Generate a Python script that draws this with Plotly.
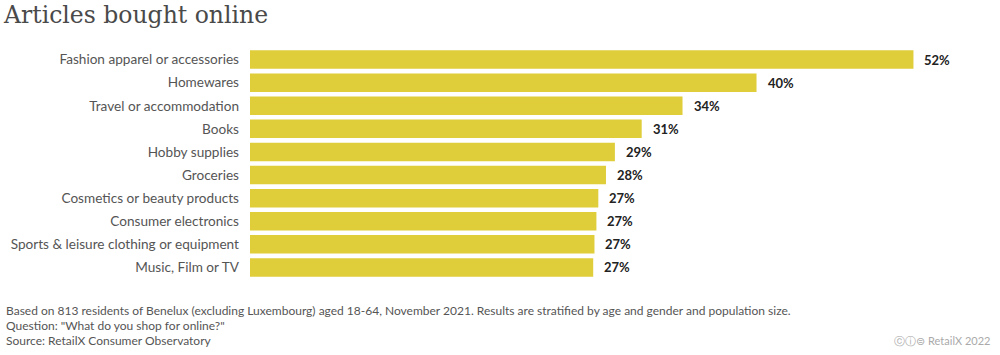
import plotly.graph_objects as go

categories = [
    "Fashion apparel or accessories",
    "Homewares",
    "Travel or accommodation",
    "Books",
    "Hobby supplies",
    "Groceries",
    "Cosmetics or beauty products",
    "Consumer electronics",
    "Sports & leisure clothing or equipment",
    "Music, Film or TV",
]
values = [52.0, 39.7, 33.9, 30.7, 28.6, 27.9, 27.3, 27.15, 27.0, 26.9]

title_text = "Articles bought online"
footer_lines = [
    "Based on 813 residents of Benelux (excluding Luxembourg) aged 18-64, November 2021. Results are stratified by age and gender and population size.",
    'Question: "What do you shop for online?"',
    "Source: RetailX Consumer Observatory",
]
credit_text = "ⓒⓘ⊜ RetailX 2022"

W, H = 1000, 355
ML, MR, MT, MB = 250, 10, 48, 76
PW, PH = W - ML - MR, H - MT - MB

def px_x(px):
    return (px - ML) / PW

def px_y(py):
    return 1 - (py - MT) / PH

fig = go.Figure(
    go.Bar(
        x=values,
        y=categories,
        orientation="h",
        marker=dict(color="#dfcd3a", line=dict(width=0)),
        hoverinfo="skip",
    )
)

annotations = []
for v, c in zip(values, categories):
    annotations.append(dict(
        x=v, y=c, xref="x", yref="y", text=f"<b>{round(v):d}%</b>",
        showarrow=False, xanchor="left", yanchor="middle", xshift=9,
        font=dict(family="Lato, sans-serif", size=13, color="#222222"),
    ))

for i, line in enumerate(footer_lines):
    annotations.append(dict(
        x=px_x(4), y=px_y(310 + i * 15), xref="paper", yref="paper",
        text=line, showarrow=False, xanchor="left", yanchor="middle",
        font=dict(family="Lato, sans-serif", size=12, color="#555555"),
    ))

annotations.append(dict(
    x=px_x(992), y=px_y(340), xref="paper", yref="paper",
    text=credit_text, showarrow=False, xanchor="right", yanchor="middle",
    font=dict(family="Lato, DejaVu Sans, sans-serif", size=11, color="#aaaaaa"),
))

fig.update_layout(
    width=W, height=H,
    margin=dict(l=ML, r=MR, t=MT, b=MB, autoexpand=False),
    paper_bgcolor="white", plot_bgcolor="white",
    showlegend=False,
    bargap=0.2,
    title=dict(
        text=title_text, xref="container", yref="container",
        x=4 / W, y=1 - 15 / H, xanchor="left", yanchor="middle",
        font=dict(family="DejaVu Serif, serif", size=23.5, color="#4a4a4a"),
    ),
    xaxis=dict(range=[0, 58], visible=False, fixedrange=True),
    yaxis=dict(
        autorange="reversed", showgrid=False, zeroline=False, showline=False,
        ticks="", ticklabelstandoff=10, automargin=False, fixedrange=True,
        tickfont=dict(family="Lato, sans-serif", size=13.6, color="#555555"),
    ),
    annotations=annotations,
)

fig.write_html(
    "out.html",
    config={"displayModeBar": False},
    post_script="document.body.style.margin='0';",
)
